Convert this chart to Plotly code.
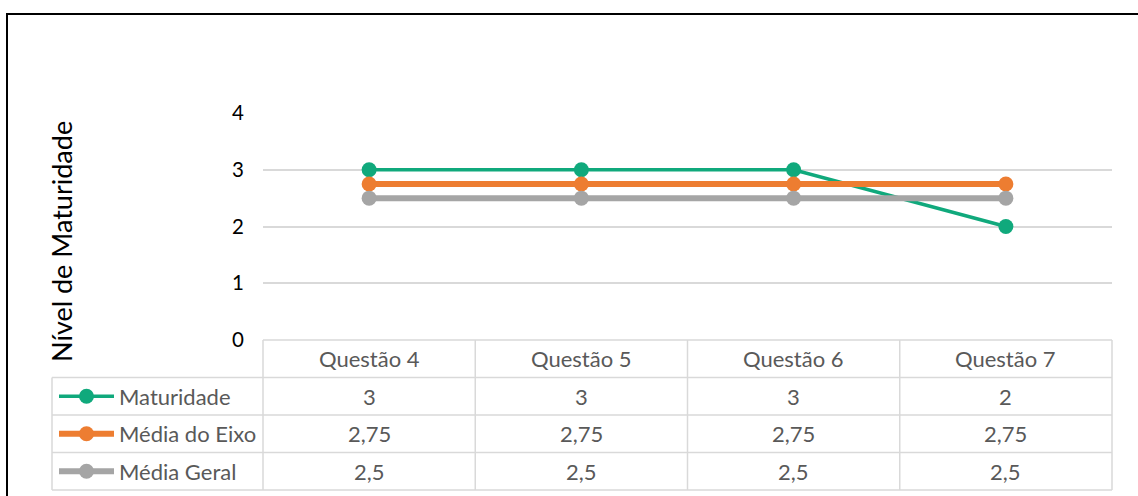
import plotly.graph_objects as go

categories = ["Questão 4", "Questão 5", "Questão 6", "Questão 7"]
series_names = ["Maturidade", "Média do Eixo", "Média Geral"]
maturidade = [3, 3, 3, 2]
media_eixo = [2.75, 2.75, 2.75, 2.75]
media_geral = [2.5, 2.5, 2.5, 2.5]
y_ticks = [0, 1, 2, 3, 4]
y_title = "Nível de Maturidade"

colors = ["#10a97c", "#ed7d31", "#a5a5a5"]
line_widths = [3.5, 6, 6]
series_values = [maturidade, media_eixo, media_geral]

W, H = 1138, 496
L, R, T, B = 263, 26, 113, 156
PW, PH = W - L - R, H - T - B
FONT = "Lato, Calibri, Carlito, sans-serif"
TXT = "#595959"
GRID = "#d9d9d9"


def px(xp):
    return (xp - L) / PW


def py(yp):
    return (H - B - yp) / PH


n = len(categories)
x_idx = list(range(n))

fig = go.Figure()
for name, vals, c, lw in zip(series_names, series_values, colors, line_widths):
    fig.add_trace(go.Scatter(
        x=x_idx, y=vals, name=name, mode="lines+markers",
        line=dict(color=c, width=lw),
        marker=dict(color=c, size=15),
        cliponaxis=False, showlegend=False,
    ))

shapes = []
annotations = []

# outer frame
shapes.append(dict(type="rect", xref="paper", yref="paper",
                   x0=px(7), x1=px(W + 20), y0=py(14), y1=py(H + 20),
                   line=dict(color="#000000", width=2), layer="below"))

# table geometry
row_edges = [340, 377.5, 415, 452.5, 490]
legend_left = 52
col_edges = [i / n for i in range(n + 1)]

shapes.append(dict(type="line", xref="paper", yref="paper", x0=0, x1=1,
                   y0=py(row_edges[0]), y1=py(row_edges[0]), line=dict(color=GRID, width=1.5)))
for ce in col_edges:
    shapes.append(dict(type="line", xref="paper", yref="paper", x0=ce, x1=ce,
                       y0=py(row_edges[0]), y1=py(row_edges[-1]), line=dict(color=GRID, width=1.5)))
for re_ in row_edges[1:]:
    shapes.append(dict(type="line", xref="paper", yref="paper", x0=px(legend_left), x1=1,
                       y0=py(re_), y1=py(re_), line=dict(color=GRID, width=1.5)))
shapes.append(dict(type="line", xref="paper", yref="paper", x0=px(legend_left), x1=px(legend_left),
                   y0=py(row_edges[1]), y1=py(row_edges[-1]), line=dict(color=GRID, width=1.5)))

hc = (row_edges[0] + row_edges[1]) / 2
for i, cat in enumerate(categories):
    annotations.append(dict(xref="paper", yref="paper", x=(i + 0.5) / n, y=py(hc),
                            text=cat, showarrow=False, xanchor="center", yanchor="middle",
                            font=dict(family=FONT, size=22, color=TXT)))


def fmt(v):
    return ("%g" % v).replace(".", ",")


for r, (name, vals, c, lw) in enumerate(zip(series_names, series_values, colors, line_widths)):
    yc = (row_edges[r + 1] + row_edges[r + 2]) / 2
    shapes.append(dict(type="line", xref="paper", yref="paper", x0=px(59), x1=px(114),
                       y0=py(yc), y1=py(yc), line=dict(color=c, width=lw)))
    shapes.append(dict(type="circle", xref="paper", yref="paper",
                       xsizemode="pixel", ysizemode="pixel",
                       xanchor=px(86.5), yanchor=py(yc), x0=-7.5, x1=7.5, y0=-7.5, y1=7.5,
                       fillcolor=c, line=dict(width=0)))
    annotations.append(dict(xref="paper", yref="paper", x=px(117), y=py(yc),
                            text=name, showarrow=False, xanchor="left", yanchor="middle",
                            font=dict(family=FONT, size=22, color=TXT)))
    for i, v in enumerate(vals):
        annotations.append(dict(xref="paper", yref="paper", x=(i + 0.5) / n, y=py(yc),
                                text=fmt(v), showarrow=False, xanchor="center", yanchor="middle",
                                font=dict(family=FONT, size=22, color=TXT)))

annotations.append(dict(xref="paper", yref="paper", x=px(61), y=py(242),
                        text=y_title, textangle=-90, showarrow=False,
                        xanchor="center", yanchor="middle",
                        font=dict(family=FONT, size=27, color="#000000")))

fig.update_layout(
    width=W, height=H,
    margin=dict(l=L, r=R, t=T, b=B, pad=0),
    paper_bgcolor="white", plot_bgcolor="white",
    shapes=shapes, annotations=annotations,
    xaxis=dict(range=[-0.5, n - 0.5], showgrid=False, zeroline=False,
               showticklabels=False, ticks="", showline=False, fixedrange=True),
    yaxis=dict(range=[0, 4], tickvals=y_ticks, showgrid=True, gridcolor=GRID, gridwidth=1.5,
               zeroline=False, showline=False, ticks="", ticklabelstandoff=18,
               tickfont=dict(family=FONT, size=20.5, color="#000000"), fixedrange=True),
    showlegend=False,
)

fig.write_html("out.html", config={"displayModeBar": False},
               post_script="document.body.style.margin='0px';document.body.style.overflow='hidden';")
